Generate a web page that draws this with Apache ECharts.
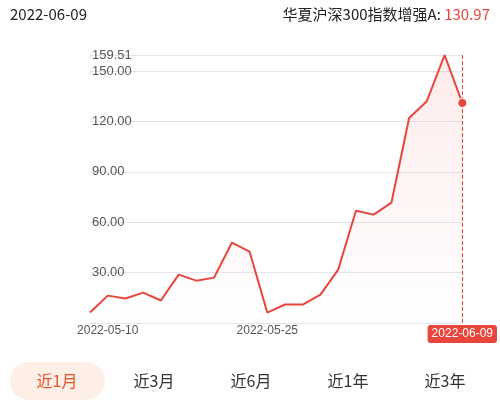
<!DOCTYPE html><html><head><meta charset="utf-8"><script src="https://cdn.jsdelivr.net/npm/echarts@6/dist/echarts.min.js"></script>
<style>body{margin:0}#c{width:500px;height:404px}</style></head><body><div id="c"></div><script>
const dates=["2022-05-10","2022-05-11","2022-05-12","2022-05-13","2022-05-16","2022-05-17","2022-05-18","2022-05-19","2022-05-20","2022-05-23","2022-05-24","2022-05-25","2022-05-26","2022-05-27","2022-05-30","2022-05-31","2022-06-01","2022-06-02","2022-06-06","2022-06-07","2022-06-08","2022-06-09"];
const values=[6.2,16.3,14.6,18.1,13.4,28.8,25.2,27.0,47.8,42.5,6.2,11,11,16.9,31.8,66.8,64.5,71.6,122,132,159.51,130.97];
const tickLabels={1:"2022-05-10",10:"2022-05-25"};
const tabs=["近1月","近3月","近6月","近1年","近3年"];
const red='#e8453c';
const c=echarts.init(document.getElementById('c'));
const g=[
 {type:'text',left:10,top:7,style:{text:'2022-06-09',fill:'#222',font:'15px "Noto Sans CJK SC"'}},
 {type:'text',right:10,top:7,style:{text:'{a|华夏沪深300指数增强A: }{b|130.97}',rich:{a:{fill:'#222',font:'15px "Noto Sans CJK SC"'},b:{fill:red,font:'15px "Noto Sans CJK SC"'}}}},
 {type:'rect',shape:{x:10,y:362,width:95,height:38,r:19},style:{fill:'#fdeee6'}}
];
tabs.forEach((t,i)=>g.push({type:'text',x:57+i*97,y:381,style:{text:t,align:'center',verticalAlign:'middle',fill:i==0?'#e8542c':'#333',font:'16px "Noto Sans CJK SC"'}}));
c.setOption({animation:false,graphic:g,
grid:{left:90,right:30,top:55,bottom:81},
xAxis:{type:'category',data:dates,boundaryGap:false,axisLine:{show:false},axisTick:{show:false},
 axisLabel:{interval:0,color:'#555',fontSize:12,margin:2,formatter:(v,i)=>i==dates.length-1?'{r|'+v+'}':(tickLabels[i]||''),rich:{r:{backgroundColor:red,color:'#fff',padding:[3,4],borderRadius:3,fontSize:12}}}},
yAxis:{type:'value',min:0,max:159.51,interval:30,position:'left',axisLabel:{color:'#555',fontSize:13,margin:-2,align:'left',showMaxLabel:true,formatter:v=>v==0?'':v.toFixed(2)},
 splitLine:{lineStyle:{color:'#e4e4ee'}},axisLine:{show:false}},
series:[{type:'line',data:values,symbol:'none',lineStyle:{color:red,width:2},
 areaStyle:{color:new echarts.graphic.LinearGradient(0,0,0,1,[{offset:0,color:'rgba(232,69,60,0.15)'},{offset:1,color:'rgba(232,69,60,0)'}])},
 markPoint:{symbol:'circle',symbolSize:9,label:{show:false},itemStyle:{color:red,borderColor:'#fff',borderWidth:1},data:[{coord:[21,130.97]}]},
 markLine:{symbol:'none',silent:true,label:{show:false},lineStyle:{color:red,type:'dashed',width:1},data:[[{coord:[21,159.51]},{coord:[21,0]}]]}}]});
</script></body></html>
